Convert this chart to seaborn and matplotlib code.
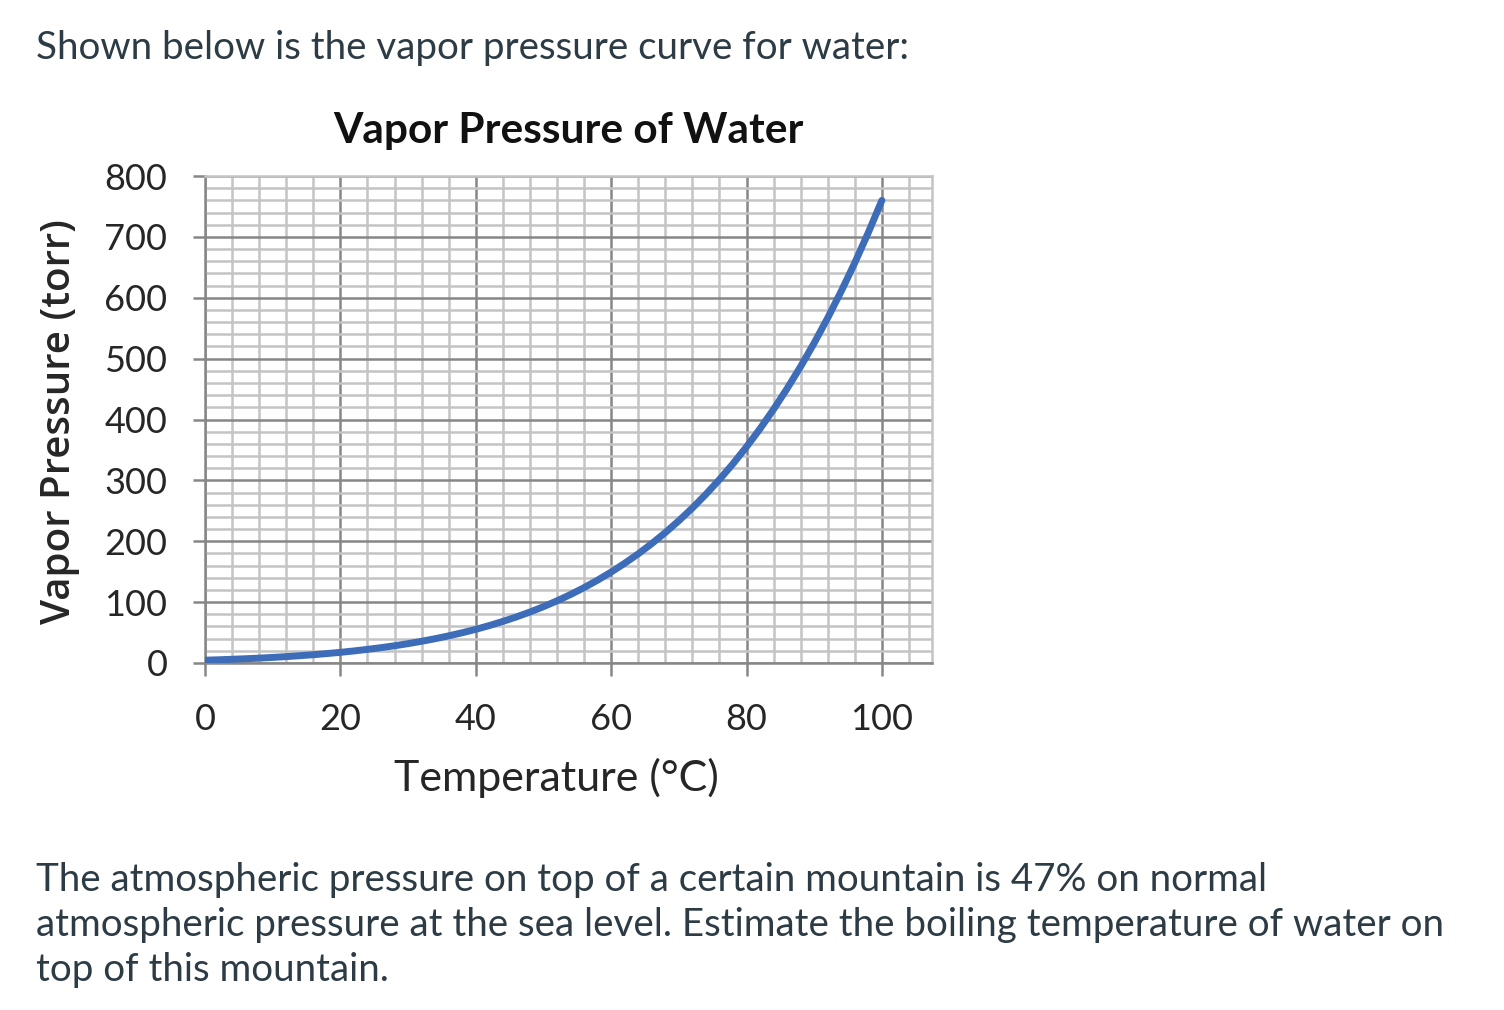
import numpy as np
import pandas as pd
import matplotlib
matplotlib.use('Agg')
import matplotlib.pyplot as plt
from matplotlib.ticker import MultipleLocator
import seaborn as sns

# vapor pressure of water (torr)
temps = [0, 2, 4, 6, 8, 10, 12, 14, 16, 18, 20, 22, 24, 26, 28, 30, 32, 34, 36,
         38, 40, 42, 44, 46, 48, 50, 52, 54, 56, 58, 60, 62, 64, 66, 68, 70,
         72, 74, 76, 78, 80, 82, 84, 86, 88, 90, 92, 94, 96, 98, 100]
pressures = [4.6, 5.3, 6.1, 7.0, 8.0, 9.2, 10.5, 12.0, 13.6, 15.5, 17.5, 19.8,
             22.4, 25.2, 28.3, 31.8, 35.7, 39.9, 44.6, 49.7, 55.3, 61.5, 68.3,
             75.7, 83.7, 92.5, 102.1, 112.5, 123.8, 136.1, 149.4, 163.8, 179.3,
             196.1, 214.2, 233.7, 254.6, 277.2, 301.4, 327.3, 355.1, 384.9,
             416.8, 450.9, 487.1, 525.8, 567.0, 610.9, 657.6, 707.3, 760.0]
x_ticks = [0, 20, 40, 60, 80, 100]
y_ticks = [0, 100, 200, 300, 400, 500, 600, 700, 800]

intro = 'Shown below is the vapor pressure curve for water:'
question = ('The atmospheric pressure on top of a certain mountain is 47% on normal\n'
            'atmospheric pressure at the sea level. Estimate the boiling temperature of water on\n'
            'top of this mountain.')


def main():
    sns.set_style('white')
    plt.rcParams['font.family'] = ['Lato', 'DejaVu Sans']

    df = pd.DataFrame({'temp': temps, 'pressure': pressures})

    fig = plt.figure(figsize=(15.04, 10.1), dpi=100)
    W, H = 1504, 1010
    ax = fig.add_axes([205 / W, 1 - 663 / H, (932 - 205) / W, (663 - 176) / H])

    sns.lineplot(data=df, x='temp', y='pressure', color='#3d6cb9',
                 linewidth=5, ax=ax, zorder=5, solid_joinstyle='round')

    ax.set_xlim(0, 107.4)
    ax.set_ylim(0, 800)
    ax.set_xticks(x_ticks)
    ax.set_yticks(y_ticks)
    ax.xaxis.set_minor_locator(MultipleLocator(4))
    ax.yaxis.set_minor_locator(MultipleLocator(20))

    ax.grid(which='major', color='#878787', linewidth=1.8)
    ax.grid(which='minor', color='#c4c4c4', linewidth=1.8)
    ax.set_axisbelow(True)

    for side in ['top', 'right']:
        ax.spines[side].set_color('#c4c4c4')
        ax.spines[side].set_linewidth(1.8)
    for side in ['left', 'bottom']:
        ax.spines[side].set_color('#878787')
        ax.spines[side].set_linewidth(1.8)

    ax.tick_params(which='major', length=9, width=1.8, color='#878787',
                   labelsize=26, labelcolor='#262626', pad=18,
                   left=True, bottom=True)
    ax.tick_params(axis='x', which='major', pad=20)
    ax.tick_params(which='minor', length=0)

    ax.set_xlabel('')
    ax.set_ylabel('')
    ax.set_title('Vapor Pressure of Water', fontsize=30.5, fontweight='bold',
                 color='#111111', pad=24)

    fig.text(556 / W, 1 - 778 / H, 'Temperature (°C)', fontsize=31,
             color='#262626', ha='center', va='center')
    fig.text(60 / W, 1 - 422 / H, 'Vapor Pressure (torr)', fontsize=29,
             color='#262626', ha='center', va='center', rotation=90,
             fontweight='semibold', family=['Open Sans', 'DejaVu Sans'])

    fig.text(36 / W, 1 - 48 / H, intro, fontsize=27.7, color='#2d3b45',
             ha='left', va='center')
    fig.text(36 / W, 1 - 925 / H, question, fontsize=27.7, color='#2d3b45',
             ha='left', va='center', linespacing=1.32)

    fig.savefig('out.png', dpi=100)
    plt.close(fig)


if __name__ == '__main__':
    main()
